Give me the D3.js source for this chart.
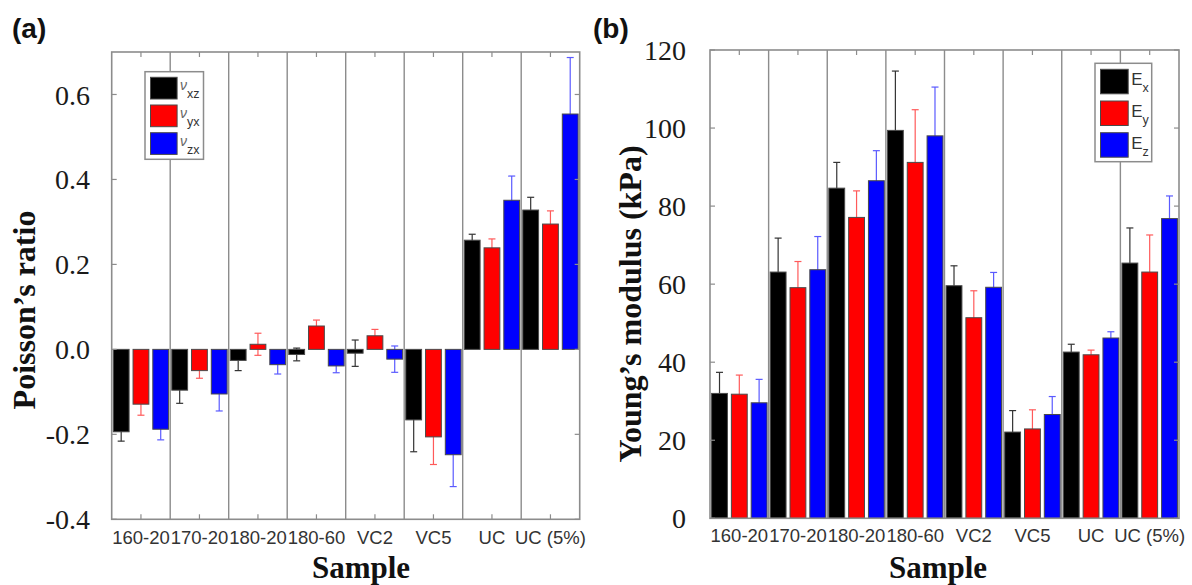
<!DOCTYPE html>
<html>
<head>
<meta charset="utf-8">
<script src="https://cdn.jsdelivr.net/npm/d3@7"></script>
<style>
  html, body { margin: 0; padding: 0; background: #fff; }
  svg { display: block; }
</style>
</head>
<body>
<svg id="fig" width="1192" height="585"></svg>
<script>
// Sample groups shared by both panels
const samples = ["160-20", "170-20", "180-20", "180-60", "VC2", "VC5", "UC", "UC (5%)"];

// (a) Poisson's ratio, mean and standard deviation per sample
const nuXZ    = [-0.194, -0.096, -0.026, -0.012, -0.009, -0.166, 0.257, 0.328];
const nuXZErr = [ 0.022,  0.031,  0.024,  0.015,  0.031,  0.075, 0.014, 0.030];
const nuYX    = [-0.129, -0.050,  0.012,  0.055,  0.032, -0.206, 0.239, 0.295];
const nuYXErr = [ 0.026,  0.018,  0.026,  0.014,  0.015,  0.065, 0.021, 0.031];
const nuZX    = [-0.188, -0.105, -0.036, -0.039, -0.023, -0.248, 0.351, 0.554];
const nuZXErr = [ 0.025,  0.040,  0.022,  0.016,  0.031,  0.075, 0.057, 0.133];
const poissonTicks = [-0.4, -0.2, 0.0, 0.2, 0.4, 0.6];

// (b) Young's modulus (kPa), mean and standard deviation per sample
const eX    = [32.0, 63.1, 84.6, 99.4, 59.6, 22.1, 42.6, 65.4];
const eXErr = [ 5.4,  8.7,  6.6, 15.2,  5.1,  5.5,  2.0,  9.0];
const eY    = [31.8, 59.1, 77.1, 91.2, 51.4, 22.9, 41.9, 63.1];
const eYErr = [ 4.9,  6.7,  6.8, 13.5,  6.9,  4.9,  1.2,  9.5];
const eZ    = [29.6, 63.7, 86.5, 98.0, 59.2, 26.6, 46.2, 76.8];
const eZErr = [ 6.0,  8.5,  7.7, 12.5,  3.8,  4.6,  1.6,  5.8];
const youngTicks = [0, 20, 40, 60, 80, 100, 120];

const seriesColors = ["#000000", "#ff0000", "#0000ff"];
const errColors = ["#333333", "#ff5a5a", "#5a5aff"];

const SERIF = "'Liberation Serif', 'Times New Roman', serif";
const SANS = "'Liberation Sans', Arial, sans-serif";
const FRAME = "#8c8c8c";

const svg = d3.select("#fig");

// one decimal, plain hyphen for negatives
const fmtPoisson = v => d3.format(".1f")(v).replace("\u2212", "-");

function drawPanel(opt) {
  const g = svg.append("g");
  const x = d3.scaleBand().domain(samples).range([opt.left, opt.right]).padding(0);
  const inner = d3.scaleBand().domain([0, 1, 2]).range([0, x.bandwidth()])
    .paddingInner(0.2).paddingOuter(0.08);
  const y = d3.scaleLinear().domain(opt.domain).range([opt.bottom, opt.top]);
  const y0 = y(Math.max(0, opt.domain[0]));

  // group separators
  g.selectAll("line.sep").data(samples.slice(1)).join("line")
    .attr("x1", d => x(d)).attr("x2", d => x(d))
    .attr("y1", opt.top).attr("y2", opt.bottom)
    .attr("stroke", FRAME).attr("stroke-width", 1.4);

  // minor ticks at group centres (top and bottom, pointing inward)
  samples.forEach(s => {
    const cx = x(s) + x.bandwidth() / 2;
    g.append("line").attr("x1", cx).attr("x2", cx).attr("y1", opt.bottom).attr("y2", opt.bottom - 5)
      .attr("stroke", FRAME).attr("stroke-width", 1.2);
    g.append("line").attr("x1", cx).attr("x2", cx).attr("y1", opt.top).attr("y2", opt.top + 5)
      .attr("stroke", FRAME).attr("stroke-width", 1.2);
  });

  // error bars first, so that the bars cover their inner halves
  opt.series.forEach((ser, k) => {
    const bx = s => x(s) + inner(k) + inner.bandwidth() / 2;
    const eg = g.append("g").attr("stroke", errColors[k]).attr("stroke-width", 1.2);
    samples.forEach((s, i) => {
      const v = ser.values[i], e = ser.errors[i];
      const cx = bx(s);
      const ya = y(v - e), yb = y(v + e);
      eg.append("line").attr("x1", cx).attr("x2", cx).attr("y1", ya).attr("y2", yb);
      eg.append("line").attr("x1", cx - 3.5).attr("x2", cx + 3.5).attr("y1", ya).attr("y2", ya);
      eg.append("line").attr("x1", cx - 3.5).attr("x2", cx + 3.5).attr("y1", yb).attr("y2", yb);
    });
  });

  // bars
  opt.series.forEach((ser, k) => {
    g.append("g").selectAll("rect").data(samples).join("rect")
      .attr("x", s => x(s) + inner(k))
      .attr("width", inner.bandwidth())
      .attr("y", (s, i) => Math.min(y(ser.values[i]), y0))
      .attr("height", (s, i) => Math.abs(y(ser.values[i]) - y0))
      .attr("fill", seriesColors[k])
      .attr("stroke", "#4a4a4a").attr("stroke-width", 1);
  });

  // frame
  g.append("rect").attr("x", opt.left).attr("y", opt.top)
    .attr("width", opt.right - opt.left).attr("height", opt.bottom - opt.top)
    .attr("fill", "none").attr("stroke", FRAME).attr("stroke-width", 1.6);

  // y ticks (inward on both sides) and labels
  const yAxis = d3.axisLeft(y).tickValues(opt.ticks).tickSize(0).tickFormat(opt.fmt);
  const ya = g.append("g").attr("transform", `translate(${opt.labelRight},0)`).call(yAxis);
  ya.select(".domain").remove();
  ya.selectAll("text").attr("font-family", SERIF).attr("font-size", 28).attr("fill", "#1a1a1a")
    .attr("x", 0).attr("dy", "0.34em");
  opt.ticks.forEach(t => {
    g.append("line").attr("x1", opt.left).attr("x2", opt.left + 5).attr("y1", y(t)).attr("y2", y(t))
      .attr("stroke", FRAME).attr("stroke-width", 1.2);
    g.append("line").attr("x1", opt.right).attr("x2", opt.right - 5).attr("y1", y(t)).attr("y2", y(t))
      .attr("stroke", FRAME).attr("stroke-width", 1.2);
  });

  // x labels
  const xAxis = d3.axisBottom(x).tickSize(0);
  const xa = g.append("g").attr("transform", `translate(0,${opt.bottom})`).call(xAxis);
  xa.select(".domain").remove();
  xa.selectAll("text").attr("font-family", SANS).attr("font-size", 18.5).attr("fill", "#333")
    .attr("y", opt.xLabelY - opt.bottom).attr("dy", 0);

  // axis titles
  g.append("text").attr("x", opt.sampleX).attr("y", 578)
    .attr("text-anchor", "middle").attr("font-family", SERIF).attr("font-weight", "bold")
    .attr("font-size", 31).attr("fill", "#111").text("Sample");
  g.append("text")
    .attr("transform", `translate(${opt.titleX},${opt.titleY}) rotate(-90)`)
    .attr("text-anchor", "middle").attr("font-family", SERIF).attr("font-weight", "bold")
    .attr("font-size", 32).attr("fill", "#111").text(opt.title);

  // panel tag
  g.append("text").attr("x", opt.tagX).attr("y", 38)
    .attr("font-family", SANS).attr("font-weight", "bold").attr("font-size", 28)
    .attr("fill", "#111").text(opt.tag);

  // legend
  const L = opt.legend;
  g.append("rect").attr("x", L.x).attr("y", L.y).attr("width", L.w).attr("height", L.h)
    .attr("fill", "#fff").attr("stroke", FRAME).attr("stroke-width", 1.5);
  opt.series.forEach((ser, k) => {
    const sy = L.y + L.pad + k * L.step;
    g.append("rect").attr("x", L.x + 5.5).attr("y", sy).attr("width", L.sw).attr("height", L.sh)
      .attr("fill", seriesColors[k]).attr("stroke", "#4a4a4a").attr("stroke-width", 1);
    const t = g.append("text").attr("x", L.x + 5.5 + L.sw + 3).attr("y", sy + L.base)
      .attr("font-family", SANS).attr("fill", "#333");
    t.append("tspan").attr("font-size", L.mainSize).attr("font-style", L.italic ? "italic" : "normal")
      .attr("fill", L.italic ? "#666" : "#333").text(ser.sym);
    t.append("tspan").attr("font-size", 12.5).attr("dy", L.subDy).text(ser.sub);
  });
}

drawPanel({
  left: 111.7, right: 579.7, top: 52, bottom: 519.3,
  domain: [-0.4, 0.7], ticks: poissonTicks, fmt: fmtPoisson,
  labelRight: 90, xLabelY: 544,
  series: [
    { values: nuXZ, errors: nuXZErr, sym: "\u03bd", sub: "xz" },
    { values: nuYX, errors: nuYXErr, sym: "\u03bd", sub: "yx" },
    { values: nuZX, errors: nuZXErr, sym: "\u03bd", sub: "zx" }
  ],
  sampleX: 361, title: "Poisson\u2019s ratio", titleX: 35, titleY: 310,
  tag: "(a)", tagX: 12,
  legend: { x: 145, y: 71.7, w: 58.5, h: 87.6, pad: 5.6, step: 27.7, sw: 26.6, sh: 21.7,
            base: 13, subDy: 8, mainSize: 14, italic: true }
});

drawPanel({
  left: 710, right: 1179, top: 50, bottom: 518.3,
  domain: [0, 120], ticks: youngTicks, fmt: d3.format("d"),
  labelRight: 686, xLabelY: 541.7,
  series: [
    { values: eX, errors: eXErr, sym: "E", sub: "x" },
    { values: eY, errors: eYErr, sym: "E", sub: "y" },
    { values: eZ, errors: eZErr, sym: "E", sub: "z" }
  ],
  sampleX: 938, title: "Young\u2019s modulus (kPa)", titleX: 641, titleY: 304,
  tag: "(b)", tagX: 593,
  legend: { x: 1095, y: 63.3, w: 56.7, h: 98.4, pad: 6, step: 31.7, sw: 27.7, sh: 24.5,
            base: 16, subDy: 7, mainSize: 17, italic: false }
});
</script>
</body>
</html>
